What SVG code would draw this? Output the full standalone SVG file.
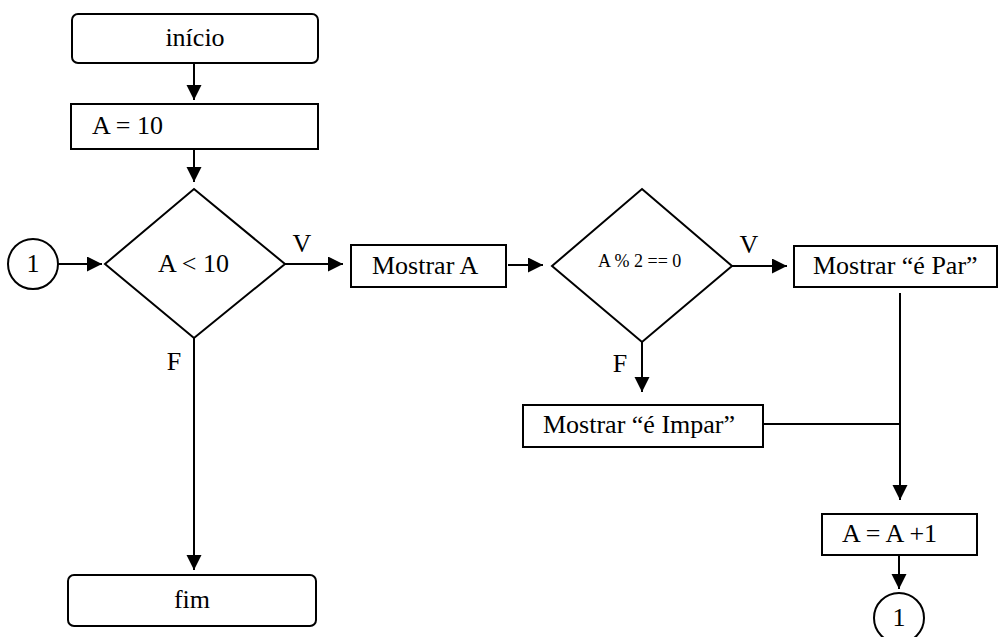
<svg xmlns="http://www.w3.org/2000/svg" width="999" height="637" viewBox="0 0 999 637">
<style>
.box{fill:#fff;stroke:#000;stroke-width:2}
.ln{fill:none;stroke:#000;stroke-width:2}
text{font-family:'Liberation Serif','Times New Roman','DejaVu Serif',serif;font-size:26px;fill:#000}
.s{font-size:18px}
.c{text-anchor:middle}
</style>
<defs>
<marker id="ah" markerUnits="userSpaceOnUse" markerWidth="16" markerHeight="16" refX="15" refY="7.5" orient="auto">
<path d="M0,0 L15,7.5 L0,15 z" fill="#000"/>
</marker>
</defs>
<g font-family="Liberation Serif, Times New Roman, serif">
<g id="inicio"><rect class="box" x="72" y="14" width="246" height="49" rx="6"/><text class="c" x="195" y="46">início</text></g>
<g id="a10"><rect class="box" x="71" y="104" width="247" height="45"/><text x="92" y="134">A = 10</text></g>
<g id="dec1"><polygon class="box" points="194,189 285,264 194,338 105,264"/><text x="158" y="272">A &lt; 10</text></g>
<g id="con1"><circle class="box" cx="33" cy="264" r="25"/><text class="c" x="33" y="272">1</text></g>
<g id="mostrarA"><rect class="box" x="351" y="245" width="155" height="42"/><text x="372" y="274">Mostrar A</text></g>
<g id="dec2"><polygon class="box" points="642,189 732,266 642,342 552,266"/><text class="s" x="598" y="267">A % 2 == 0</text></g>
<g id="par"><rect class="box" x="794" y="246" width="203" height="41"/><text x="813" y="274">Mostrar “é Par”</text></g>
<g id="impar"><rect class="box" x="523" y="405" width="240" height="42"/><text x="543" y="433">Mostrar “é Impar”</text></g>
<g id="inc"><rect class="box" x="822" y="514" width="155" height="41"/><text x="842" y="542">A = A +1</text></g>
<g id="con2"><circle class="box" cx="899" cy="618" r="25"/><text class="c" x="899" y="626">1</text></g>
<g id="fim"><rect class="box" x="68" y="575" width="248" height="51" rx="6"/><text class="c" x="192" y="608">fim</text></g>
<g id="connectors">
<line class="ln" x1="194" y1="64" x2="194" y2="100" marker-end="url(#ah)"/>
<line class="ln" x1="194" y1="150" x2="194" y2="182" marker-end="url(#ah)"/>
<line class="ln" x1="58" y1="264" x2="102" y2="264" marker-end="url(#ah)"/>
<line class="ln" x1="285" y1="264" x2="343" y2="264" marker-end="url(#ah)"/>
<line class="ln" x1="508" y1="265" x2="543" y2="265" marker-end="url(#ah)"/>
<line class="ln" x1="732" y1="266" x2="787" y2="266" marker-end="url(#ah)"/>
<line class="ln" x1="194" y1="338" x2="194" y2="570" marker-end="url(#ah)"/>
<line class="ln" x1="642" y1="342" x2="642" y2="392" marker-end="url(#ah)"/>
<line class="ln" x1="900" y1="293" x2="900" y2="500" marker-end="url(#ah)"/>
<line class="ln" x1="763" y1="424" x2="900" y2="424"/>
<line class="ln" x1="899" y1="555" x2="899" y2="589" marker-end="url(#ah)"/>
<text class="c" x="302" y="252">V</text>
<text class="c" x="174" y="370">F</text>
<text class="c" x="749" y="253">V</text>
<text class="c" x="620" y="372">F</text>
</g>
</g>
</svg>
